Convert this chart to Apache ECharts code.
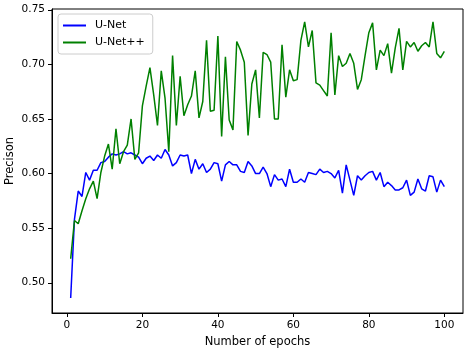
<!DOCTYPE html>
<html>
<head>
<meta charset="utf-8">
<script src="https://cdn.jsdelivr.net/npm/echarts@6/dist/echarts.min.js"></script>
<style>
  html, body { margin: 0; padding: 0; background: #fff; }
  #chart { width: 474px; height: 353px; }
</style>
</head>
<body>
<div id="chart"></div>
<script>
const epochs = [
  1, 2, 3, 4, 5, 6, 7, 8, 9, 10, 11, 12, 13, 14, 15, 16, 17, 18, 19, 20,
  21, 22, 23, 24, 25, 26, 27, 28, 29, 30, 31, 32, 33, 34, 35, 36, 37, 38, 39, 40,
  41, 42, 43, 44, 45, 46, 47, 48, 49, 50, 51, 52, 53, 54, 55, 56, 57, 58, 59, 60,
  61, 62, 63, 64, 65, 66, 67, 68, 69, 70, 71, 72, 73, 74, 75, 76, 77, 78, 79, 80,
  81, 82, 83, 84, 85, 86, 87, 88, 89, 90, 91, 92, 93, 94, 95, 96, 97, 98, 99, 100
]

const unet = [
  0.486, 0.558, 0.584, 0.579, 0.601, 0.594, 0.603, 0.603, 0.610, 0.611,
  0.615, 0.618, 0.617, 0.618, 0.620, 0.618, 0.619, 0.617, 0.615, 0.609,
  0.614, 0.616, 0.612, 0.617, 0.614, 0.622, 0.617, 0.607, 0.610, 0.617,
  0.616, 0.617, 0.600, 0.613, 0.604, 0.609, 0.601, 0.604, 0.610, 0.609,
  0.593, 0.608, 0.611, 0.608, 0.608, 0.602, 0.601, 0.611, 0.607, 0.600,
  0.600, 0.606, 0.600, 0.588, 0.599, 0.594, 0.595, 0.588, 0.604, 0.592,
  0.592, 0.595, 0.592, 0.601, 0.600, 0.599, 0.604, 0.601, 0.602, 0.600,
  0.596, 0.603, 0.582, 0.608, 0.594, 0.580, 0.598, 0.594, 0.598, 0.601,
  0.602, 0.594, 0.601, 0.588, 0.592, 0.589, 0.585, 0.585, 0.587, 0.594,
  0.580, 0.583, 0.595, 0.586, 0.584, 0.598, 0.597, 0.583, 0.594, 0.588
]

const unetpp = [
  0.522, 0.557, 0.554, 0.566, 0.577, 0.586, 0.593, 0.577, 0.601, 0.616,
  0.627, 0.604, 0.641, 0.609, 0.620, 0.626, 0.650, 0.613, 0.619, 0.662,
  0.680, 0.697, 0.672, 0.644, 0.694, 0.669, 0.620, 0.708, 0.644, 0.689,
  0.653, 0.663, 0.671, 0.694, 0.651, 0.666, 0.722, 0.657, 0.658, 0.726,
  0.634, 0.707, 0.649, 0.640, 0.721, 0.713, 0.702, 0.635, 0.682, 0.695,
  0.651, 0.711, 0.709, 0.702, 0.650, 0.650, 0.718, 0.670, 0.695, 0.685,
  0.686, 0.722, 0.739, 0.716, 0.731, 0.683, 0.681, 0.676, 0.671, 0.729,
  0.672, 0.708, 0.698, 0.701, 0.710, 0.701, 0.677, 0.686, 0.708, 0.729,
  0.738, 0.695, 0.713, 0.708, 0.719, 0.692, 0.715, 0.733, 0.695, 0.721,
  0.716, 0.720, 0.712, 0.717, 0.720, 0.716, 0.739, 0.710, 0.706, 0.712
]

const xTicks = [0, 20, 40, 60, 80, 100]
const yTicks = [0.50, 0.55, 0.60, 0.65, 0.70, 0.75]

const font = 'DejaVu Sans'
const chart = echarts.init(document.getElementById('chart'), null, { renderer: 'canvas' })

function pairs(ys) {
  return ys.map((y, i) => [epochs[i], y])
}

chart.setOption({
  animation: false,
  textStyle: { fontFamily: font },
  grid: {
    left: 52, right: 11, top: 9, bottom: 40,
    outerBoundsMode: 'none',
    containLabel: false,
    show: true, borderColor: '#000', borderWidth: 1, backgroundColor: 'transparent'
  },
  legend: {
    orient: 'vertical',
    left: 58, top: 14,
    icon: 'rect',
    itemWidth: 23, itemHeight: 2, itemGap: 4,
    padding: [5, 8, 5, 5],
    borderColor: '#cccccc', borderWidth: 1, borderRadius: 3,
    backgroundColor: 'rgba(255,255,255,0.8)',
    textStyle: { fontFamily: font, fontSize: 11, color: '#000', padding: [0, 0, 0, 4], lineHeight: 13 },
    data: ['U-Net', 'U-Net++']
  },
  xAxis: {
    type: 'value',
    min: -3.95, max: 104.95,
    name: 'Number of epochs', nameLocation: 'middle', nameGap: 23,
    nameMoveOverlap: false,
    nameTextStyle: { fontFamily: font, fontSize: 11.5, color: '#000' },
    axisLine: { show: true, onZero: false, lineStyle: { color: '#000', width: 1 } },
    axisTick: { show: true, length: 4, customValues: xTicks, lineStyle: { color: '#000' } },
    axisLabel: { margin: 7, fontSize: 10.5, color: '#000', customValues: xTicks },
    splitLine: { show: false }
  },
  yAxis: {
    type: 'value',
    min: 0.4723, max: 0.7507,
    name: 'Precison', nameLocation: 'middle', nameGap: 36,
    nameMoveOverlap: false,
    nameTextStyle: { fontFamily: font, fontSize: 11.5, color: '#000' },
    axisLine: { show: true, onZero: false, lineStyle: { color: '#000', width: 1 } },
    axisTick: { show: true, length: 4, customValues: yTicks, lineStyle: { color: '#000' } },
    axisLabel: {
      margin: 7, fontSize: 10.5, color: '#000', customValues: yTicks,
      formatter: v => v.toFixed(2)
    },
    splitLine: { show: false }
  },
  series: [
    {
      name: 'U-Net', type: 'line', data: pairs(unet),
      symbol: 'none', lineStyle: { color: '#0000ff', width: 1.5 }, itemStyle: { color: '#0000ff' }
    },
    {
      name: 'U-Net++', type: 'line', data: pairs(unetpp),
      symbol: 'none', lineStyle: { color: '#008000', width: 1.5 }, itemStyle: { color: '#008000' }
    }
  ]
})
</script>
</body>
</html>
